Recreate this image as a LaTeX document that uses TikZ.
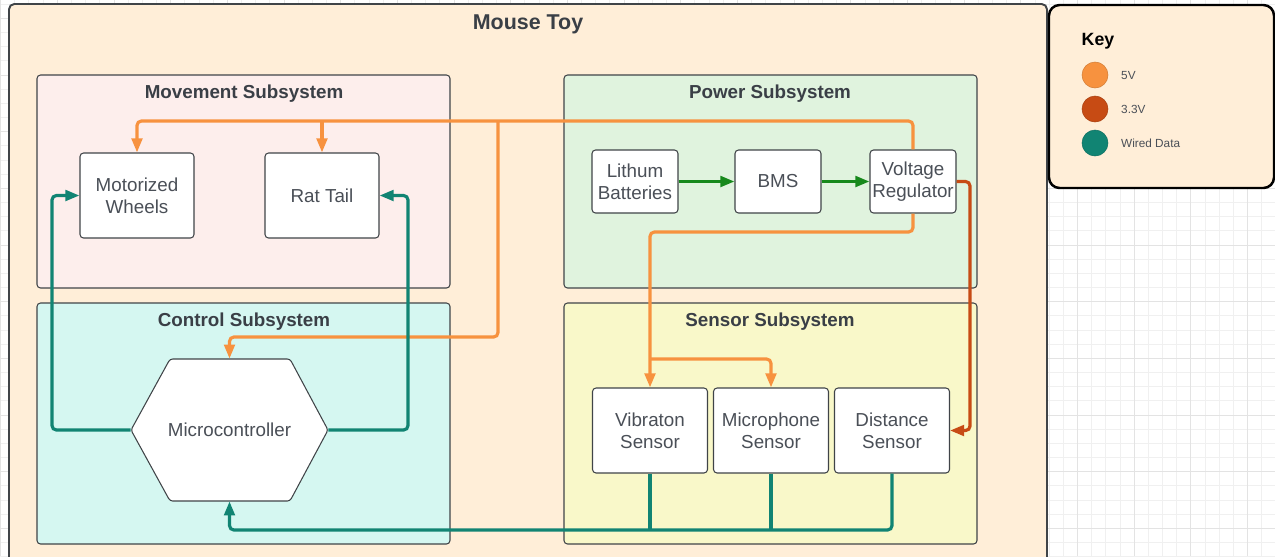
\documentclass[tikz,border=0pt]{standalone}
\usepackage{fontspec}
\setmainfont{Liberation Sans}
\usetikzlibrary{arrows.meta}

\definecolor{pagebeige}{HTML}{FFEED8}
\definecolor{movefill}{HTML}{FDEEEC}
\definecolor{powerfill}{HTML}{E0F3DE}
\definecolor{ctrlfill}{HTML}{D5F7F1}
\definecolor{sensefill}{HTML}{F9F8C9}
\definecolor{fivev}{HTML}{F7923F}
\definecolor{threev}{HTML}{C74B14}
\definecolor{datateal}{HTML}{118473}
\definecolor{flowgreen}{HTML}{17891C}
\definecolor{txtgrey}{HTML}{4A4F57}
\definecolor{titlegrey}{HTML}{3A3F46}
\definecolor{edgegrey}{HTML}{404448}

\begin{document}
\begin{tikzpicture}[x=0.02cm, y=-0.02cm,
    font=\fontsize{10.7}{12.6}\selectfont,
    gridminor/.style={draw=black!6, line width=0.4pt},
    gridmajor/.style={draw=black!11, line width=0.4pt},
    subsys/.style={draw=edgegrey, line width=0.6pt, rounded corners=2pt},
    systitle/.style={font=\fontsize{10.7}{12.6}\selectfont\bfseries, text=titlegrey},
    block/.style={draw=edgegrey, line width=0.6pt, fill=white, rounded corners=2pt,
      text=txtgrey, align=center, inner sep=0pt},
    wheelblock/.style={block, minimum width=2.28cm, minimum height=1.7cm},
    powerblock/.style={block, minimum width=1.72cm, minimum height=1.26cm},
    sensorblock/.style={block, minimum width=2.3cm, minimum height=1.7cm},
    wire/.style={line width=1.8pt, rounded corners=2.5pt},
    arrowend/.style={-{Triangle[length=8pt,width=6pt]}},
    v5/.style={wire, draw=fivev, arrowend, fivev},
    v33/.style={wire, draw=threev, arrowend, threev},
    data/.style={wire, draw=datateal, arrowend, datateal},
    flow/.style={wire, draw=flowgreen, arrowend, flowgreen},
    keydot/.style={circle, minimum size=0.52cm, inner sep=0pt, draw=#1!85!black, line width=0.3pt, fill=#1},
    keytext/.style={anchor=west, font=\fontsize{6.7}{8}\selectfont, text=txtgrey}
  ]
  \useasboundingbox (0,0) rectangle (1275,556);
  \clip (0,0) rectangle (1275,556);

  % paper grid
  \foreach \i in {0,...,90}
    \draw[gridminor] (\i*14.17+0.5,0) -- (\i*14.17+0.5,556);
  \foreach \j in {0,...,40}
    \draw[gridminor] (0,\j*14.17+4) -- (1275,\j*14.17+4);
  \foreach \i in {0,...,23}
    \draw[gridmajor] (\i*56.68+0.5,0) -- (\i*56.68+0.5,556);
  \foreach \j in {0,...,10}
    \draw[gridmajor] (0,\j*56.68+18.2) -- (1275,\j*56.68+18.2);

  % outer frame and key
  \draw[fill=pagebeige, draw=edgegrey, line width=1.1pt, rounded corners=3pt] (9,4) rectangle (1047,580);
  \node[font=\fontsize{12.2}{14}\selectfont\bfseries, text=titlegrey] (toy) at (528,24) {Mouse Toy};

  \draw[fill=pagebeige, draw=black, line width=1.4pt, rounded corners=6pt] (1049,5) rectangle (1274,188);
  \node[font=\fontsize{10.1}{12}\selectfont\bfseries, text=black] (key) at (1098,41) {Key};
  \node[keydot=fivev] (k5) at (1095,75) {};
  \node[keydot=threev] (k33) at (1095,109) {};
  \node[keydot=datateal] (kdata) at (1095,143) {};
  \node[keytext] at (1115,75) {5V};
  \node[keytext] at (1115,109) {3.3V};
  \node[keytext] at (1115,143) {Wired Data};

  % subsystems
  \draw[subsys, fill=movefill] (37,75) rectangle (450,288);
  \draw[subsys, fill=powerfill] (564,75) rectangle (977,288);
  \draw[subsys, fill=ctrlfill] (37,303) rectangle (450,544);
  \draw[subsys, fill=sensefill] (564,303) rectangle (977,544);
  \node[systitle] (movetitle) at (244,94) {Movement Subsystem};
  \node[systitle] (powertitle) at (770,94) {Power Subsystem};
  \node[systitle] (ctrltitle) at (244,322) {Control Subsystem};
  \node[systitle] (sensetitle) at (770,322) {Sensor Subsystem};

  % blocks
  \node[wheelblock] (wheels) at (137,195.5) {Motorized\\Wheels};
  \node[wheelblock] (tail) at (322,195.5) {Rat Tail};
  \node[powerblock] (batt) at (635,181.5) {Lithum\\Batteries};
  \node[powerblock] (bms) at (778,181.5) {BMS};
  \node[powerblock] (vreg) at (913,181.5) {Voltage\\Regulator};
  \node[sensorblock] (vib) at (650,430.5) {Vibraton\\Sensor};
  \node[sensorblock] (mic) at (771,430.5) {Microphone\\Sensor};
  \node[sensorblock] (dist) at (892,430.5) {Distance\\Sensor};

  \draw[fill=white, draw=edgegrey, line width=0.6pt, rounded corners=1.5pt]
    (131,430) -- (170,359) -- (290,359) -- (328,430) -- (290,501) -- (170,501) -- cycle;
  \node[minimum width=3.94cm, minimum height=2.84cm, inner sep=0pt, text=txtgrey] (mcu) at (229.5,430) {Microcontroller};

  % bend points
  \coordinate (rail5) at (0,121);
  \coordinate (drop5) at (498,121);
  \coordinate (mcu5) at (0,337);
  \coordinate (rail5b) at (0,232);
  \coordinate (rail5c) at (0,359);
  \coordinate (rail33) at (970,0);
  \coordinate (dataL) at (52,0);
  \coordinate (dataR) at (408,0);
  \coordinate (busD) at (0,530);

  % 5V
  \draw[v5] (vreg.north) -- (vreg.north |- rail5) -| (wheels.north);
  \draw[v5] (tail.north |- rail5) -- (tail.north);
  \draw[v5] (drop5) -- (drop5 |- mcu5) -| (mcu.north);
  \draw[v5] (vreg.south) -- (vreg.south |- rail5b) -| (vib.north);
  \draw[v5] (vib.north |- rail5c) -| (mic.north);

  % 3.3V
  \draw[v33] (vreg.east) -| (rail33 |- dist.east) -- (dist.east);

  % battery chain
  \draw[flow] (batt) -- (bms);
  \draw[flow] (bms) -- (vreg);

  % wired data
  \draw[data] (mcu.west) -| (dataL |- wheels.west) -- (wheels.west);
  \draw[data] (mcu.east) -| (dataR |- tail.east) -- (tail.east);
  \draw[data] (dist.south) |- (mcu.south |- busD) -- (mcu.south);
  \draw[wire, draw=datateal] (vib.south) -- (vib.south |- busD);
  \draw[wire, draw=datateal] (mic.south) -- (mic.south |- busD);
\end{tikzpicture}
\end{document}
